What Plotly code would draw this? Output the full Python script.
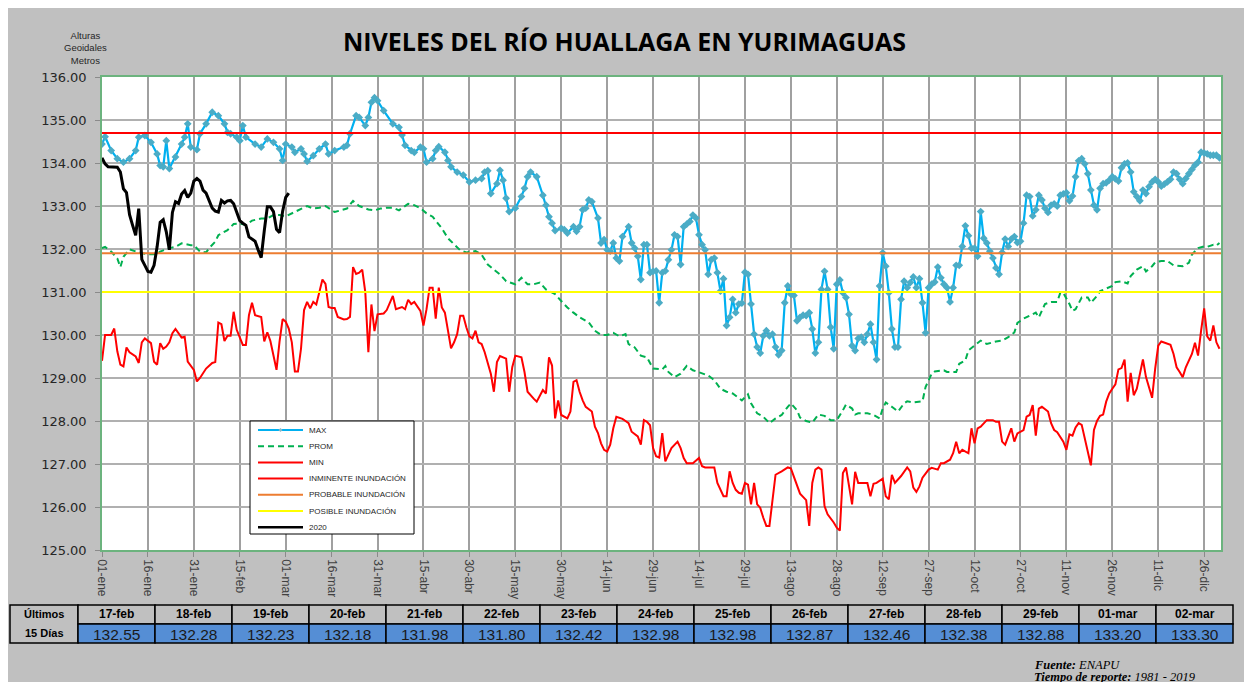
import plotly.graph_objects as go

# ---------------- data ----------------
tick_labels = ["01-ene", "16-ene", "31-ene", "15-feb", "01-mar", "16-mar", "31-mar", "15-abr",
               "30-abr", "15-may", "30-may", "14-jun", "29-jun", "14-jul", "29-jul", "13-ago",
               "28-ago", "12-sep", "27-sep", "12-oct", "27-oct", "11-nov", "26-nov", "11-dic", "26-dic"]

max_days = [0, 1, 3, 5, 7, 9, 11, 12, 14, 16, 18, 19, 20, 21, 22, 24, 26, 27, 28, 29, 31, 32, 34, 36, 38, 40, 41, 42,
            44, 45, 46, 47, 50, 52, 54, 56, 58, 59, 60, 62, 63, 65, 66, 67, 69, 71, 73, 74, 76, 79, 80, 81, 83, 84,
            86, 87, 88, 89, 90, 92, 95, 97, 98, 99, 101, 102, 104, 105, 106, 108, 109, 110, 112, 113, 114, 116, 118,
            120, 122, 124, 125, 126, 127, 129, 130, 131, 132, 133, 135, 137, 138, 139, 140, 142, 144, 145, 146, 147,
            148, 150, 151, 152, 154, 155, 156, 157, 158, 159, 160, 162, 163, 164, 165, 166, 167, 168, 169, 170, 172,
            173, 174, 175, 176, 177, 178, 179, 180, 181, 182, 183, 184, 185, 186, 187, 188, 189, 190, 191, 192, 193,
            194, 195, 196, 197, 198, 199, 200, 201, 202, 203, 204, 205, 206, 207, 208, 209, 210, 211, 212, 213, 214,
            215, 216, 217, 218, 219, 220, 221, 222, 223, 224, 225, 226, 227, 228, 229, 230, 231, 232, 233, 234, 235,
            236, 237, 238, 239, 240, 241, 242, 243, 244, 245, 246, 247, 248, 249, 250, 251, 252, 253, 254, 255, 256,
            257, 258, 259, 260, 261, 262, 263, 264, 265, 266, 267, 268, 269, 270, 271, 272, 273, 274, 275, 276, 277,
            278, 279, 280, 281, 282, 283, 284, 285, 286, 287, 288, 289, 290, 291, 292, 293, 294, 295, 296, 297, 298,
            299, 300, 301, 302, 303, 304, 305, 306, 307, 308, 309, 310, 311, 312, 313, 314, 315, 316, 317, 318, 319,
            320, 321, 322, 323, 324, 325, 326, 327, 328, 329, 330, 331, 332, 333, 334, 335, 336, 337, 338, 339, 340,
            341, 342, 343, 344, 345, 346, 347, 348, 349, 350, 351, 352, 353, 354, 355, 356, 357, 358, 359, 360, 361,
            362, 363, 364, 365]
max_vals = [134.44, 134.61, 134.29, 134.10, 134.02, 134.10, 134.29, 134.60, 134.64, 134.48, 134.21, 133.94, 133.91,
            134.52, 133.87, 134.14, 134.44, 134.60, 134.91, 134.37, 134.31, 134.68, 134.91, 135.18, 135.10, 134.91,
            134.71, 134.68, 134.60, 134.52, 134.87, 134.60, 134.44, 134.37, 134.56, 134.48, 134.33, 134.06, 134.44,
            134.37, 134.25, 134.33, 134.21, 134.04, 134.17, 134.33, 134.44, 134.21, 134.29, 134.37, 134.41, 134.68,
            135.10, 135.06, 134.87, 135.06, 135.41, 135.52, 135.45, 135.22, 134.91, 134.83, 134.65, 134.41, 134.29,
            134.25, 134.37, 134.33, 134.02, 134.10, 134.29, 134.38, 134.25, 134.06, 133.91, 133.79, 133.72, 133.56,
            133.60, 133.64, 133.79, 133.82, 133.29, 133.52, 133.83, 133.60, 133.18, 132.87, 132.95, 133.22, 133.41,
            133.68, 133.79, 133.68, 133.25, 133.02, 132.75, 132.60, 132.43, 132.48, 132.45, 132.37, 132.52, 132.41,
            132.52, 132.91, 132.95, 133.14, 133.10, 132.72, 132.14, 132.22, 131.98, 131.95, 132.14, 131.79, 131.72,
            132.29, 132.52, 132.14, 132.02, 131.83, 131.29, 132.10, 132.10, 131.45, 131.48, 131.49, 130.75, 131.45,
            131.49, 131.75, 131.98, 132.33, 132.29, 131.64, 132.52, 132.58, 132.64, 132.79, 132.72, 132.33, 132.10,
            131.98, 131.41, 131.75, 131.79, 131.45, 131.02, 131.31, 130.22, 130.41, 130.83, 130.52, 130.72, 130.74,
            131.46, 131.41, 130.72, 130.02, 129.72, 129.58, 129.98, 130.10, 129.98, 130.02, 129.72, 129.54, 129.64,
            130.75, 131.14, 130.95, 130.92, 130.33, 130.41, 130.46, 130.45, 130.52, 130.14, 129.58, 129.83, 131.06,
            131.48, 131.06, 130.18, 129.68, 131.18, 131.28, 130.98, 130.87, 130.48, 129.75, 129.64, 129.92, 129.95,
            129.83, 130.02, 130.25, 129.83, 129.43, 131.14, 131.91, 131.60, 130.98, 130.14, 129.72, 129.72, 130.83,
            131.25, 131.10, 131.22, 131.35, 131.10, 131.31, 130.75, 130.05, 131.10, 131.18, 131.23, 131.58, 131.33,
            131.18, 131.10, 130.77, 131.10, 131.62, 131.62, 132.06, 132.54, 132.31, 132.02, 132.02, 131.83, 132.87,
            132.25, 132.14, 131.95, 131.79, 131.56, 131.41, 131.92, 132.23, 132.06, 132.23, 132.29, 132.15, 132.18,
            132.60, 133.25, 133.22, 132.77, 132.91, 133.25, 133.14, 132.95, 132.85, 133.02, 133.05, 133.00, 133.25,
            133.28, 133.31, 133.12, 133.23, 133.68, 134.05, 134.10, 133.98, 133.75, 133.37, 133.02, 132.91, 133.41,
            133.52, 133.54, 133.60, 133.68, 133.63, 133.58, 133.89, 133.98, 134.00, 133.79, 133.33, 133.22, 133.12,
            133.37, 133.29, 133.45, 133.56, 133.62, 133.56, 133.46, 133.51, 133.56, 133.62, 133.79, 133.75, 133.62,
            133.52, 133.64, 133.75, 133.85, 133.95, 134.02, 134.25, 134.23, 134.21, 134.18, 134.18, 134.18, 134.12]

prom_days = [0, 1, 3, 5, 6, 7, 9, 11, 13, 15, 18, 19, 22, 24, 26, 29, 30, 32, 34, 35, 37, 38, 41, 43, 45, 47, 49, 52,
             54, 56, 58, 60, 62, 65, 67, 69, 71, 73, 76, 78, 80, 82, 84, 87, 89, 91, 93, 95, 97, 100, 102, 104, 106,
             108, 111, 113, 115, 117, 119, 122, 124, 126, 128, 130, 132, 135, 137, 139, 141, 143, 145, 148, 150, 152,
             154, 156, 159, 161, 163, 165, 167, 169, 171, 172, 174, 176, 178, 180, 183, 184, 185, 187, 189, 191, 193,
             196, 198, 200, 202, 204, 206, 209, 211, 212, 214, 216, 218, 220, 222, 224, 225, 227, 228, 230, 232, 234,
             236, 238, 240, 242, 243, 245, 246, 247, 250, 252, 254, 255, 256, 258, 260, 262, 263, 265, 268, 269, 271,
             272, 275, 276, 279, 280, 282, 283, 285, 287, 289, 292, 294, 296, 298, 299, 301, 303, 305, 306, 308, 310,
             312, 313, 314, 316, 317, 318, 320, 322, 323, 325, 326, 328, 330, 331, 333, 335, 336, 338, 340, 341, 343,
             344, 346, 348, 350, 353, 355, 356, 358, 360, 361, 363, 364, 365]
prom_vals = [132.02, 132.05, 131.94, 131.78, 131.58, 131.82, 131.99, 131.94, 131.90, 131.88, 131.88, 131.94, 132.02,
             132.05, 132.13, 132.09, 132.09, 131.94, 131.92, 132.02, 132.17, 132.32, 132.44, 132.58, 132.59, 132.56,
             132.66, 132.71, 132.71, 132.79, 132.79, 132.76, 132.83, 132.92, 133.00, 132.94, 132.96, 133.00, 132.86,
             132.90, 132.94, 133.12, 133.00, 132.92, 132.90, 132.94, 132.96, 132.96, 132.90, 133.05, 133.02, 132.95,
             132.83, 132.75, 132.48, 132.25, 132.10, 131.97, 131.92, 131.95, 131.87, 131.64, 131.52, 131.41, 131.25,
             131.18, 131.33, 131.18, 131.18, 131.22, 131.06, 130.95, 130.79, 130.64, 130.52, 130.41, 130.29, 130.10,
             130.00, 130.00, 130.05, 129.97, 130.02, 129.79, 129.71, 129.52, 129.48, 129.22, 129.20, 129.28, 129.14,
             129.02, 129.10, 129.28, 129.18, 129.10, 129.06, 128.95, 128.75, 128.68, 128.64, 128.48, 128.62, 128.41,
             128.18, 128.10, 127.95, 128.06, 128.14, 128.33, 128.41, 128.25, 128.08, 128.00, 127.96, 128.15, 128.12,
             128.02, 128.02, 128.25, 128.38, 128.29, 128.15, 128.18, 128.18, 128.14, 128.06, 128.29, 128.43, 128.33,
             128.22, 128.41, 128.46, 128.43, 128.46, 128.79, 129.10, 129.15, 129.18, 129.14, 129.14, 129.33, 129.41,
             129.64, 129.75, 129.87, 129.79, 129.85, 129.87, 129.95, 130.06, 130.28, 130.38, 130.45, 130.52, 130.41,
             130.72, 130.77, 130.77, 130.98, 130.98, 130.72, 130.56, 130.60, 130.87, 130.87, 130.75, 130.91, 131.02,
             131.08, 131.14, 131.23, 131.25, 131.20, 131.37, 131.52, 131.60, 131.48, 131.60, 131.69, 131.72, 131.72,
             131.62, 131.60, 131.68, 131.87, 132.02, 132.06, 132.05, 132.10, 132.08, 132.14]

min_days = [0, 1, 3, 4, 5, 6, 7, 8, 9, 11, 12, 13, 14, 16, 17, 18, 19, 20, 21, 22, 23, 24, 26, 27, 28, 30, 31, 32, 34,
            36, 37, 38, 39, 40, 41, 42, 43, 44, 46, 47, 48, 49, 50, 52, 53, 54, 55, 56, 57, 58, 59, 60, 61, 62, 63,
            64, 65, 66, 67, 68, 69, 70, 71, 72, 73, 74, 75, 76, 77, 79, 80, 81, 82, 83, 84, 85, 86, 87, 88, 89, 90,
            92, 93, 94, 95, 96, 98, 99, 100, 101, 102, 104, 105, 106, 107, 108, 109, 110, 111, 112, 113, 114, 115,
            116, 117, 118, 119, 120, 121, 122, 123, 124, 125, 126, 127, 128, 129, 130, 132, 133, 134, 135, 137, 138,
            139, 141, 142, 144, 145, 146, 147, 148, 149, 150, 152, 153, 154, 155, 156, 157, 158, 160, 161, 162, 163,
            164, 165, 166, 167, 168, 170, 171, 172, 173, 175, 176, 177, 178, 179, 180, 181, 182, 183, 184, 185, 186,
            188, 189, 190, 191, 193, 195, 196, 197, 199, 200, 201, 202, 203, 204, 205, 206, 207, 208, 209, 210, 211,
            212, 213, 214, 215, 216, 217, 218, 219, 220, 222, 224, 225, 226, 228, 230, 231, 232, 233, 234, 235, 236,
            237, 239, 240, 241, 242, 243, 244, 245, 246, 247, 249, 250, 251, 252, 253, 255, 256, 257, 258, 259, 261,
            263, 264, 265, 266, 267, 268, 270, 271, 273, 274, 275, 277, 278, 279, 280, 281, 283, 284, 285, 286, 287,
            289, 291, 292, 293, 294, 295, 297, 298, 299, 301, 302, 303, 304, 305, 306, 307, 309, 310, 311, 312, 314,
            315, 316, 317, 318, 319, 320, 322, 323, 324, 325, 326, 327, 328, 329, 330, 331, 332, 333, 334, 335, 336,
            337, 338, 339, 340, 341, 342, 343, 344, 345, 346, 347, 349, 350, 351, 352, 353, 354, 355, 356, 357, 358,
            359, 360, 361, 362, 363, 364, 365]
min_vals = [129.40, 130.00, 130.00, 130.15, 129.62, 129.31, 129.27, 129.71, 129.60, 129.50, 129.35, 129.83, 129.92,
            129.81, 129.38, 129.31, 129.81, 129.68, 129.73, 129.83, 130.04, 130.14, 129.94, 129.96, 129.38, 129.19,
            128.92, 129.00, 129.22, 129.35, 129.37, 130.29, 130.25, 129.86, 129.98, 129.98, 130.54, 130.12, 129.77,
            129.77, 130.46, 130.75, 130.46, 130.42, 129.85, 130.06, 129.86, 129.54, 129.19, 129.85, 130.37, 130.31,
            130.15, 129.83, 129.15, 129.15, 129.68, 130.58, 130.77, 130.62, 130.77, 130.71, 131.00, 131.29, 131.19,
            130.65, 130.63, 130.63, 130.42, 130.36, 130.37, 130.42, 131.58, 131.42, 131.45, 131.52, 131.00, 129.60,
            130.71, 130.09, 130.48, 130.50, 130.58, 130.75, 130.91, 130.60, 130.65, 130.60, 130.82, 130.72, 130.77,
            130.56, 130.22, 130.60, 131.10, 131.10, 130.38, 131.10, 130.64, 130.52, 130.14, 129.69, 129.83, 130.02,
            130.45, 130.45, 130.18, 129.97, 129.92, 130.10, 129.83, 129.79, 129.60, 129.33, 129.10, 128.68, 129.37,
            129.51, 129.45, 128.68, 129.25, 129.52, 129.48, 129.14, 128.68, 128.52, 128.45, 128.72, 128.64, 129.48,
            129.29, 128.06, 128.48, 128.14, 128.06, 128.22, 128.91, 128.95, 128.68, 128.48, 128.33, 128.22, 127.87,
            127.72, 127.48, 127.33, 127.29, 127.45, 127.83, 128.10, 128.05, 128.00, 127.95, 127.75, 127.64, 127.45,
            128.02, 127.98, 127.90, 127.37, 127.18, 127.15, 127.72, 127.06, 127.22, 127.37, 127.52, 127.37, 127.14,
            127.02, 127.02, 127.14, 126.95, 126.92, 126.92, 126.92, 126.56, 126.40, 126.25, 126.25, 126.83, 126.56,
            126.40, 126.33, 126.31, 126.56, 126.52, 126.06, 126.56, 126.06, 125.98, 125.75, 125.56, 125.56, 126.14,
            126.75, 126.83, 126.92, 126.90, 126.71, 126.31, 126.16, 125.56, 126.56, 126.87, 126.92, 126.87, 126.02,
            125.83, 125.64, 125.52, 125.45, 126.79, 126.92, 126.52, 126.06, 126.82, 126.56, 126.56, 126.56, 126.25,
            126.54, 126.56, 126.66, 126.25, 126.18, 126.75, 126.56, 126.72, 126.92, 126.83, 126.45, 126.35, 126.48,
            126.68, 126.87, 126.91, 126.87, 127.02, 127.02, 127.10, 127.25, 127.52, 127.25, 127.33, 127.25, 127.83,
            127.48, 127.83, 127.87, 128.02, 128.02, 127.98, 127.98, 127.52, 127.45, 127.83, 127.52, 127.71, 127.79,
            128.10, 128.14, 128.37, 127.66, 128.29, 128.33, 128.22, 127.95, 127.79, 127.74, 127.52, 127.33, 127.69,
            127.66, 127.85, 127.95, 127.91, 127.29, 126.97, 127.79, 128.00, 128.12, 128.15, 128.45, 128.64, 128.75,
            128.85, 129.20, 129.23, 129.43, 128.45, 129.12, 128.60, 128.75, 129.10, 129.43, 129.02, 128.79, 128.54,
            129.22, 129.75, 129.85, 129.82, 129.77, 129.56, 129.25, 129.14, 129.02, 129.25, 129.41, 129.56, 129.82,
            129.52, 130.10, 130.62, 129.97, 129.87, 130.22, 129.83, 129.68]

# 2020 daily levels, 01-ene .. 02-mar
y2020_vals = [134.12, 133.98, 133.91, 133.91, 133.91, 133.90, 133.79, 133.40, 133.31, 132.80, 132.55, 132.32,
              132.94, 131.76, 131.62, 131.48, 131.46, 131.62, 132.05, 132.62, 132.68, 132.40, 131.98, 132.85,
              133.10, 133.06, 133.28, 133.36, 133.20, 133.30, 133.58, 133.64, 133.58, 133.37, 133.30, 133.12,
              132.95, 132.88, 132.86, 133.13, 133.07, 133.12, 133.13, 133.05, 132.85, 132.66, 132.60,
              132.55, 132.28, 132.23, 132.18, 131.98, 131.80, 132.42, 132.98, 132.98, 132.87, 132.46, 132.38,
              132.88, 133.20, 133.30]

inminente_level = 134.70
probable_level = 131.90
posible_level = 131.00

table_dates = ["17-feb", "18-feb", "19-feb", "20-feb", "21-feb", "22-feb", "23-feb", "24-feb",
               "25-feb", "26-feb", "27-feb", "28-feb", "29-feb", "01-mar", "02-mar"]
table_values = [132.55, 132.28, 132.23, 132.18, 131.98, 131.80, 132.42, 132.98,
                132.98, 132.87, 132.46, 132.38, 132.88, 133.20, 133.30]

# ---------------- layout helpers ----------------
# Screen positions (page has an 8px body margin; figure is offset by it)
OFF = 8
W, H = 1252, 682
PL, PR, PT, PB = 102, 1221, 77, 550          # plot area on screen
X_MIN, X_MAX = 0, 365.5


def fx(sx):
    return (sx - PL) / (PR - PL)


def fy(sy):
    return (PB - sy) / (PB - PT)


series_styles = {
    "MAX": dict(color="#00b0f0", width=2.2, dash="solid"),
    "PROM": dict(color="#00b050", width=2, dash="6px,4px"),
    "MIN": dict(color="#ff0000", width=2, dash="solid"),
    "INMINENTE INUNDACIÓN": dict(color="#ff0000", width=2, dash="solid"),
    "PROBABLE INUNDACIÓN": dict(color="#ed7d31", width=2, dash="solid"),
    "POSIBLE INUNDACIÓN": dict(color="#ffff00", width=2, dash="solid"),
    "2020": dict(color="#000000", width=2.5, dash="solid"),
}

fig = go.Figure()

fig.add_trace(go.Scatter(x=max_days, y=max_vals, name="MAX", mode="lines+markers",
                         line=series_styles["MAX"],
                         marker=dict(symbol="diamond", size=6, color="#4bacc6")))
fig.add_trace(go.Scatter(x=prom_days, y=prom_vals, name="PROM", mode="lines",
                         line=series_styles["PROM"]))
fig.add_trace(go.Scatter(x=min_days, y=min_vals, name="MIN", mode="lines",
                         line=series_styles["MIN"]))
for lvl, nm in [(inminente_level, "INMINENTE INUNDACIÓN"),
                (probable_level, "PROBABLE INUNDACIÓN"),
                (posible_level, "POSIBLE INUNDACIÓN")]:
    fig.add_trace(go.Scatter(x=[X_MIN, X_MAX], y=[lvl, lvl], name=nm, mode="lines",
                             line=series_styles[nm]))
fig.add_trace(go.Scatter(x=list(range(len(y2020_vals))), y=y2020_vals, name="2020", mode="lines",
                         line=dict(color="#000000", width=3)))

shapes = []
annotations = []

# title and axis caption
annotations.append(dict(text="<b>NIVELES DEL RÍO HUALLAGA EN YURIMAGUAS</b>", xref="paper", yref="paper",
                        x=fx(624), y=fy(41), showarrow=False, xanchor="center", yanchor="middle",
                        font=dict(family="Open Sans, Arial", size=25, color="#000000")))
annotations.append(dict(text="Alturas<br>Geoidales<br>Metros", xref="paper", yref="paper", x=fx(85), y=fy(48),
                        showarrow=False, xanchor="center", yanchor="middle",
                        font=dict(family="Arial", size=9.5, color="#262626")))

# custom legend (box + line samples + labels)
LG_X0, LG_X1, LG_Y0, LG_Y1 = 250, 414, 421, 534
shapes.append(dict(type="rect", xref="paper", yref="paper", x0=fx(LG_X0), x1=fx(LG_X1),
                   y0=fy(LG_Y1), y1=fy(LG_Y0), fillcolor="#ffffff", line=dict(color="#000000", width=1)))
for i, nm in enumerate(series_styles):
    sy = 430 + 16.2 * i
    st = series_styles[nm]
    shapes.append(dict(type="line", xref="paper", yref="paper", x0=fx(258), x1=fx(303), y0=fy(sy), y1=fy(sy),
                       line=dict(color=st["color"], width=st["width"], dash=st["dash"])))
    if nm == "MAX":
        shapes.append(dict(type="path", xref="paper", yref="paper",
                           path=f"M {fx(280.5)} {fy(sy - 2)} L {fx(282.5)} {fy(sy)} L {fx(280.5)} {fy(sy + 2)} "
                                f"L {fx(278.5)} {fy(sy)} Z",
                           fillcolor="#8fb8c8", line=dict(width=0)))
    annotations.append(dict(text=nm, xref="paper", yref="paper", x=fx(307), y=fy(sy), showarrow=False,
                            xanchor="left", yanchor="middle",
                            font=dict(family="Arial", size=8, color="#262626")))

# bottom table
LBL_X0, COL_X0, COL_W = 10, 78, 77.0
ROW0, ROW1, ROW2 = 605, 624, 643
shapes.append(dict(type="rect", xref="paper", yref="paper", x0=fx(LBL_X0), x1=fx(COL_X0),
                   y0=fy(ROW2), y1=fy(ROW0), fillcolor="#c0c0c0", line=dict(color="#000000", width=1.5)))
annotations.append(dict(text="<b>Últimos</b>", xref="paper", yref="paper", x=fx((LBL_X0 + COL_X0) / 2),
                        y=fy(614.5), showarrow=False, xanchor="center", yanchor="middle",
                        font=dict(family="Arial", size=11, color="#000")))
annotations.append(dict(text="<b>15 Días</b>", xref="paper", yref="paper", x=fx((LBL_X0 + COL_X0) / 2),
                        y=fy(633), showarrow=False, xanchor="center", yanchor="middle",
                        font=dict(family="Arial", size=11, color="#000")))
for i, (d, v) in enumerate(zip(table_dates, table_values)):
    x0 = COL_X0 + i * COL_W
    x1 = x0 + COL_W
    shapes.append(dict(type="rect", xref="paper", yref="paper", x0=fx(x0), x1=fx(x1), y0=fy(ROW1), y1=fy(ROW0),
                       fillcolor="#c0c0c0", line=dict(color="#000000", width=1.5)))
    shapes.append(dict(type="rect", xref="paper", yref="paper", x0=fx(x0), x1=fx(x1), y0=fy(ROW2), y1=fy(ROW1),
                       fillcolor="#558ed5", line=dict(color="#000000", width=1.5)))
    annotations.append(dict(text=f"<b>{d}</b>", xref="paper", yref="paper", x=fx((x0 + x1) / 2),
                            y=fy((ROW0 + ROW1) / 2), showarrow=False, xanchor="center", yanchor="middle",
                            font=dict(family="Arial", size=12, color="#000")))
    annotations.append(dict(text=f"{v:.2f}", xref="paper", yref="paper", x=fx((x0 + x1) / 2),
                            y=fy((ROW1 + ROW2) / 2 + 0.5), showarrow=False, xanchor="center", yanchor="middle",
                            font=dict(family="Arial", size=15.5, color="#1a1a1a")))

# footer
annotations.append(dict(text="<b><i>Fuente:</i></b> <i>ENAPU</i>", xref="paper", yref="paper",
                        x=fx(1032), y=fy(665), showarrow=False, xanchor="left", yanchor="middle",
                        font=dict(family="Liberation Serif", size=12.5, color="#000")))
annotations.append(dict(text="<b><i>Tiempo de reporte:</i></b> <i>1981 - 2019</i>", xref="paper", yref="paper",
                        x=fx(1032), y=fy(677), showarrow=False, xanchor="left", yanchor="middle",
                        font=dict(family="Liberation Serif", size=12.5, color="#000")))

fig.update_layout(
    width=W, height=H,
    margin=dict(l=PL - OFF, r=W - (PR - OFF), t=PT - OFF, b=H - (PB - OFF), pad=0),
    paper_bgcolor="#c0c0c0", plot_bgcolor="#ffffff",
    shapes=shapes, annotations=annotations,
    showlegend=False,
    xaxis=dict(range=[X_MIN, X_MAX], tickmode="array",
               tickvals=[15 * i for i in range(len(tick_labels))], ticktext=tick_labels,
               tickangle=90, tickfont=dict(family="Arial", size=12, color="#404040"),
               showgrid=True, gridcolor="#a0a0a0", gridwidth=1.5,
               ticks="outside", ticklen=5, tickcolor="#8a8a8a",
               showline=True, linecolor="#6cb37e", linewidth=1.5, mirror=True, zeroline=False),
    yaxis=dict(range=[125, 136], dtick=1, tickformat=".2f",
               tickfont=dict(family="DejaVu Sans", size=13, color="#262626"),
               showgrid=True, gridcolor="#b0b0b0", gridwidth=1.5,
               ticks="outside", ticklen=5, tickcolor="#8a8a8a", ticklabelstandoff=6,
               showline=True, linecolor="#6cb37e", linewidth=1.5, mirror=True, zeroline=False),
)

fig.write_html("out.html")
